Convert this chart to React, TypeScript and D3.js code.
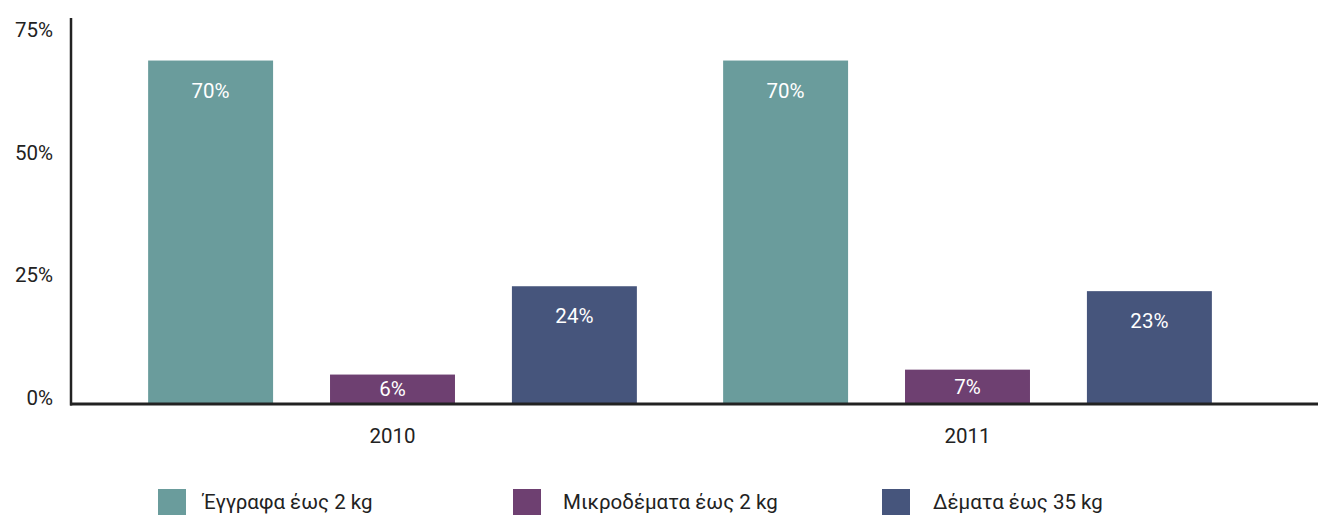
import React, { useEffect, useRef } from "react";
import * as d3 from "d3";

// Share of items by type, per year (percent)
const years = ["2010", "2011"];
const seriesNames = ["Έγγραφα έως 2 kg", "Μικροδέματα έως 2 kg", "Δέματα έως 35 kg"];
const values2010 = [70, 6, 24];
const values2011 = [70, 7, 23];
const seriesColors = ["#6a9c9c", "#6e4071", "#46557c"];
const yTicks = [0, 25, 50, 75];

const W = 1330;
const H = 515;
const FONT = "Roboto, 'Liberation Sans', sans-serif";

export default function App() {
  const ref = useRef<SVGSVGElement | null>(null);

  useEffect(() => {
    const svg = d3.select(ref.current);
    svg.selectAll("*").remove();

    const rows = years.map((year, i) => ({
      year,
      values: i === 0 ? values2010 : values2011,
    }));

    const x0 = d3.scaleBand<string>().domain(years).range([105, 1255]).paddingInner(0.15).paddingOuter(0.075);
    const x1 = d3.scaleBand<string>().domain(seriesNames).range([0, x0.bandwidth()]).paddingInner(0.313).paddingOuter(0);
    const y = d3.scaleLinear().domain([0, 75]).range([404, 36]);
    const color = d3.scaleOrdinal<string, string>().domain(seriesNames).range(seriesColors);

    // bars
    const groups = svg
      .append("g")
      .selectAll("g")
      .data(rows)
      .join("g")
      .attr("transform", (d) => `translate(${x0(d.year)},0)`);

    const cells = groups
      .selectAll("g")
      .data((d) => d.values.map((v, i) => ({ name: seriesNames[i], value: v })))
      .join("g");

    cells
      .append("rect")
      .attr("x", (d) => x1(d.name)!)
      .attr("y", (d) => y(d.value))
      .attr("width", x1.bandwidth())
      .attr("height", (d) => y(0) - y(d.value))
      .attr("fill", (d) => color(d.name));

    // value labels: 30px under the bar top, or centred when the bar is short
    cells
      .append("text")
      .attr("x", (d) => x1(d.name)! + x1.bandwidth() / 2)
      .attr("y", (d) => Math.min(y(d.value) + 30, (y(d.value) + y(0)) / 2))
      .attr("dy", "0.35em")
      .attr("text-anchor", "middle")
      .attr("fill", "#ffffff")
      .attr("font-family", FONT)
      .attr("font-size", 20.5)
      .text((d) => `${d.value}%`);

    // y tick labels
    const yAxis = svg
      .append("g")
      .attr("transform", "translate(53,-6)")
      .call(d3.axisLeft(y).tickValues(yTicks).tickSize(0).tickPadding(0).tickFormat((d) => `${d}%`));
    yAxis.select(".domain").remove();
    yAxis
      .selectAll("text")
      .attr("font-family", FONT)
      .attr("font-size", 20.5)
      .attr("fill", "#222");

    // x category labels
    const xAxis = svg
      .append("g")
      .attr("transform", "translate(0,404)")
      .call(d3.axisBottom(x0).tickSize(0).tickPadding(0));
    xAxis.select(".domain").remove();
    xAxis
      .selectAll("text")
      .attr("y", 32)
      .attr("dy", "0.35em")
      .attr("font-family", FONT)
      .attr("font-size", 20.5)
      .attr("fill", "#222");

    // axis lines
    svg.append("line").attr("x1", 71).attr("x2", 71).attr("y1", 18).attr("y2", 405.5)
      .attr("stroke", "#222").attr("stroke-width", 2.5);
    svg.append("line").attr("x1", 70).attr("x2", 1318).attr("y1", y(0)).attr("y2", y(0))
      .attr("stroke", "#222").attr("stroke-width", 3);

    // legend
    const swatchX = [158, 513, 882];
    const labelX = [203, 563, 933];
    const legend = svg
      .append("g")
      .selectAll("g")
      .data(seriesNames)
      .join("g");
    legend
      .append("rect")
      .attr("x", (_d, i) => swatchX[i])
      .attr("y", 489)
      .attr("width", 28)
      .attr("height", 28)
      .attr("fill", (d) => color(d));
    legend
      .append("text")
      .attr("x", (_d, i) => labelX[i])
      .attr("y", 509)
      .attr("font-family", FONT)
      .attr("font-size", 20.5)
      .attr("fill", "#222")
      .text((d) => d);
  }, []);

  return (
    <svg
      ref={ref}
      width={W}
      height={H}
      style={{ position: "absolute", left: 0, top: 0, background: "#fff" }}
    />
  );
}
